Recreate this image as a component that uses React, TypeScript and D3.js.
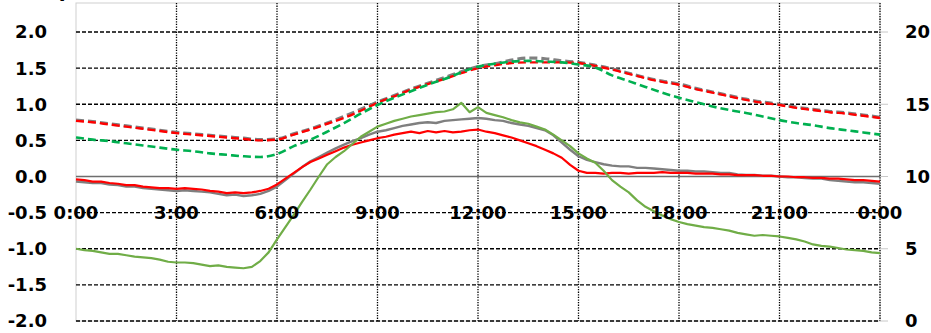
import React from 'react'
import * as d3 from 'd3'

// time stamps (hours) for the logged series
const hours15 = d3.range(0, 24.001, 0.25)
const hours30 = d3.range(0, 24.001, 0.5)

const xTicks = [0, 3, 6, 9, 12, 15, 18, 21, 24]
const xTickLabels = ['0:00', '3:00', '6:00', '9:00', '12:00', '15:00', '18:00', '21:00', '0:00']
const leftTicks = [2, 1.5, 1, 0.5, 0, -0.5, -1, -1.5, -2]
const rightTicks = [0, 5, 10, 15, 20]

// solid, noisy series (left axis)
const graySolid = [
  -0.07, -0.08, -0.09, -0.09, -0.11, -0.12, -0.14, -0.14, -0.16, -0.17, -0.18, -0.19,
  -0.2, -0.19, -0.2, -0.21, -0.22, -0.24, -0.26, -0.25, -0.27, -0.26, -0.24, -0.2,
  -0.14, -0.05, 0.04, 0.13, 0.21, 0.27, 0.33, 0.39, 0.44, 0.49, 0.53, 0.58,
  0.62, 0.64, 0.67, 0.7, 0.72, 0.74, 0.75, 0.74, 0.77, 0.78, 0.79, 0.8,
  0.81, 0.8, 0.78, 0.77, 0.74, 0.72, 0.7, 0.67, 0.64, 0.57, 0.47, 0.37,
  0.28, 0.23, 0.2, 0.17, 0.15, 0.14, 0.14, 0.12, 0.12, 0.11, 0.1, 0.09,
  0.08, 0.08, 0.07, 0.07, 0.06, 0.05, 0.05, 0.03, 0.02, 0.02, 0.01, 0.01,
  0.0, -0.01, -0.01, -0.02, -0.03, -0.03, -0.05, -0.06, -0.07, -0.08, -0.08, -0.09,
  -0.1,
]
const redSolid = [
  -0.04, -0.05, -0.07, -0.07, -0.09, -0.1, -0.12, -0.12, -0.14, -0.15, -0.16, -0.16,
  -0.17, -0.16, -0.17, -0.18, -0.2, -0.21, -0.23, -0.22, -0.23, -0.22, -0.2, -0.17,
  -0.11, -0.03, 0.05, 0.13, 0.2, 0.25, 0.3, 0.35, 0.4, 0.44, 0.47, 0.5,
  0.53, 0.55, 0.58, 0.6, 0.62, 0.6, 0.63, 0.61, 0.63, 0.61, 0.62, 0.64,
  0.65, 0.62, 0.6, 0.57, 0.54, 0.5, 0.46, 0.42, 0.37, 0.32, 0.26, 0.16,
  0.08, 0.05, 0.05, 0.04, 0.05, 0.05, 0.04, 0.05, 0.05, 0.05, 0.06, 0.05,
  0.05, 0.05, 0.04, 0.04, 0.04, 0.03, 0.03, 0.02, 0.02, 0.02, 0.01, 0.01,
  0.0, 0.0, -0.01, -0.01, -0.02, -0.02, -0.03, -0.03, -0.04, -0.05, -0.05, -0.06,
  -0.07,
]
// solid green series (right axis)
const greenSolid = [
  5.0, 4.9, 4.85, 4.75, 4.65, 4.65, 4.55, 4.45, 4.4, 4.35, 4.25, 4.1,
  4.05, 4.05, 4.0, 3.9, 3.8, 3.85, 3.75, 3.7, 3.65, 3.75, 4.15, 4.75,
  5.65, 6.5, 7.35, 8.25, 9.1, 10.0, 10.85, 11.35, 11.75, 12.25, 12.75, 13.1,
  13.45, 13.65, 13.85, 14.0, 14.15, 14.25, 14.35, 14.45, 14.5, 14.65, 15.1, 14.45,
  14.8, 14.4, 14.25, 14.1, 13.9, 13.75, 13.65, 13.45, 13.25, 12.9, 12.5, 12.1,
  11.6, 11.25, 10.95, 10.4, 9.75, 9.3, 8.9, 8.35, 7.9, 7.6, 7.3, 7.05,
  6.85, 6.7, 6.6, 6.5, 6.45, 6.35, 6.25, 6.1, 6.0, 5.9, 5.95, 5.9,
  5.85, 5.75, 5.65, 5.5, 5.3, 5.2, 5.15, 5.05, 4.95, 4.9, 4.85, 4.75,
  4.7,
]

// dashed, smooth series (left axis)
const grayDashed = [
  0.78, 0.76, 0.73, 0.7, 0.67, 0.64, 0.61, 0.59, 0.57, 0.55, 0.53, 0.51,
  0.52, 0.59, 0.66, 0.74, 0.83, 0.93, 1.03, 1.12, 1.21, 1.29, 1.37, 1.45,
  1.52, 1.56, 1.61, 1.64, 1.63, 1.6, 1.58, 1.54, 1.49, 1.43, 1.37, 1.32,
  1.28, 1.22, 1.17, 1.12, 1.07, 1.03, 1.0, 0.96, 0.93, 0.9, 0.88, 0.85,
  0.82,
]
const redDashed = [
  0.77, 0.75, 0.72, 0.69, 0.66, 0.63, 0.6, 0.58, 0.56, 0.54, 0.52, 0.5,
  0.51, 0.58, 0.65, 0.73, 0.81, 0.91, 1.02, 1.11, 1.2, 1.28, 1.35, 1.43,
  1.5, 1.54, 1.57, 1.58, 1.58, 1.58, 1.57, 1.53, 1.48, 1.42, 1.36, 1.31,
  1.27, 1.21, 1.16, 1.11, 1.06, 1.02, 0.99, 0.95, 0.92, 0.89, 0.87, 0.84,
  0.81,
]
const greenDashed = [
  0.54, 0.51, 0.49, 0.46, 0.43, 0.4, 0.37, 0.35, 0.32, 0.3, 0.28, 0.27,
  0.31, 0.42, 0.51, 0.62, 0.74, 0.87, 0.99, 1.09, 1.18, 1.27, 1.35, 1.44,
  1.52, 1.56, 1.59, 1.6, 1.59, 1.58, 1.55, 1.51, 1.4, 1.32, 1.24, 1.16,
  1.09, 1.03, 0.97, 0.92, 0.88, 0.83, 0.78, 0.74, 0.71, 0.67, 0.64, 0.61,
  0.58,
]

export default function App() {
  const width = 931
  const height = 333
  const plot = { left: 76, right: 880, top: 3, bottom: 321 }

  const x = d3.scaleLinear().domain([0, 24]).range([plot.left, plot.right])
  const yL = d3.scaleLinear().domain([-2, 2]).range([plot.bottom, 32])
  const yR = d3.scaleLinear().domain([0, 20]).range([plot.bottom, 32])

  const lineL = (hs: number[], vs: number[], curve = d3.curveLinear) =>
    d3.line<number>().x((_, i) => x(hs[i])).y(v => yL(v)).curve(curve)(vs) || ''
  const lineR = (hs: number[], vs: number[]) =>
    d3.line<number>().x((_, i) => x(hs[i])).y(v => yR(v))(vs) || ''

  const font = '"DejaVu Sans", sans-serif'

  return (
    <svg width={width} height={height} style={{ position: 'absolute', left: 0, top: 0, background: '#fff' }}>
      {/* clipped title */}
      <text x={20} y={-3} fontFamily={font} fontWeight="bold" fontSize={20} fill="#000">(a) p</text>

      {/* plot frame */}
      <rect x={plot.left} y={plot.top} width={plot.right - plot.left} height={plot.bottom - plot.top}
        fill="none" stroke="#d0d0d0" strokeWidth={1} />

      {/* horizontal dashed grid */}
      {leftTicks.filter(t => t !== 0).map(t => (
        <line key={`h${t}`} x1={plot.left} x2={plot.right} y1={yL(t)} y2={yL(t)}
          stroke="#000" strokeWidth={1.3} strokeDasharray="4,2" />
      ))}
      {/* vertical dotted grid */}
      {xTicks.filter(t => t !== 0).map(t => (
        <line key={`v${t}`} x1={x(t)} x2={x(t)} y1={plot.top} y2={plot.bottom}
          stroke="#000" strokeWidth={1.3} strokeDasharray="1.3,1.3" />
      ))}
      {/* right axis ticks */}
      {rightTicks.map(t => (
        <line key={`rt${t}`} x1={plot.right} x2={plot.right + 8} y1={yR(t)} y2={yR(t)}
          stroke="#c8c8c8" strokeWidth={1} />
      ))}
      {/* zero axis line */}
      <line x1={plot.left} x2={plot.right} y1={yL(0)} y2={yL(0)} stroke="#6e6e6e" strokeWidth={1.3} />

      {/* dashed series */}
      <path d={lineL(hours30, grayDashed, d3.curveMonotoneX)} fill="none" stroke="#808080" strokeWidth={3.2} strokeDasharray="8,4" />
      <path d={lineL(hours30, redDashed, d3.curveMonotoneX)} fill="none" stroke="#ff0000" strokeWidth={2.4} strokeDasharray="8,4" />
      <path d={lineL(hours30, greenDashed, d3.curveMonotoneX)} fill="none" stroke="#00b050" strokeWidth={2.6} strokeDasharray="8,4" />

      {/* solid series */}
      <path d={lineL(hours15, graySolid)} fill="none" stroke="#7f7f7f" strokeWidth={2.4} strokeLinejoin="round" />
      <path d={lineL(hours15, redSolid)} fill="none" stroke="#ff0000" strokeWidth={2.2} strokeLinejoin="round" />
      <path d={lineR(hours15, greenSolid)} fill="none" stroke="#70ad47" strokeWidth={2.2} strokeLinejoin="round" />

      {/* left axis labels */}
      {leftTicks.map(t => (
        <text key={`l${t}`} x={47} y={yL(t)} dy="0.36em" textAnchor="end"
          fontFamily={font} fontWeight="bold" fontSize={18} fill="#000">{d3.format('.1f')(t).replace('−', '-')}</text>
      ))}
      {/* right axis labels */}
      {rightTicks.map(t => (
        <text key={`r${t}`} x={905} y={yR(t)} dy="0.36em" textAnchor="start"
          fontFamily={font} fontWeight="bold" fontSize={18} fill="#000">{t}</text>
      ))}
      {/* x labels */}
      {xTicks.map((t, i) => (
        <text key={`x${i}`} x={x(t)} y={yL(-0.5)} dy="0.36em" textAnchor="middle"
          fontFamily={font} fontWeight="bold" fontSize={18} fill="#000">{xTickLabels[i]}</text>
      ))}
    </svg>
  )
}
